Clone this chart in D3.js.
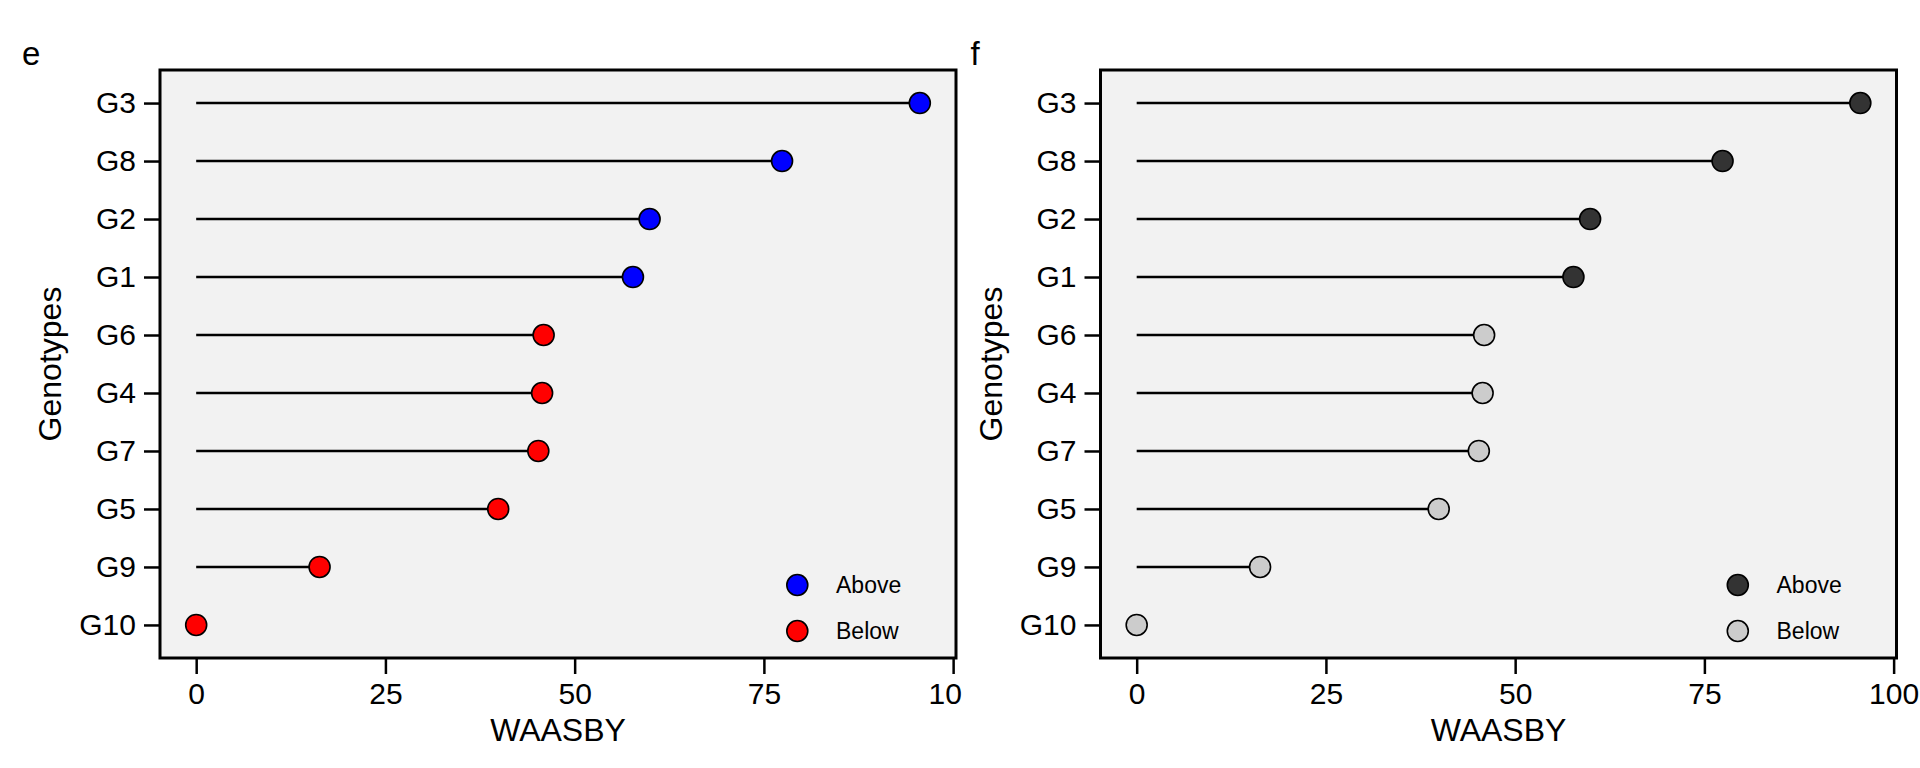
<!DOCTYPE html>
<html>
<head>
<meta charset="utf-8">
<script src="https://cdn.jsdelivr.net/npm/d3@7"></script>
<style>
  html, body { margin: 0; padding: 0; background: #ffffff; }
  svg { display: block; font-family: "Liberation Sans", Arial, sans-serif; }
</style>
</head>
<body>
<svg id="chart" width="1920" height="768"></svg>
<script>
// ---- data ----
const genotypes = ["G3", "G8", "G2", "G1", "G6", "G4", "G7", "G5", "G9", "G10"];
const waasby    = [95.6, 77.4, 59.9, 57.7, 45.9, 45.7, 45.2, 39.9, 16.3, 0];
const groups    = ["Above", "Above", "Above", "Above", "Below", "Below", "Below", "Below", "Below", "Below"];
const legendLabels = ["Above", "Below"];
const xTicks = [0, 25, 50, 75, 100];
const panelLabels = ["e", "f"];
const colorsColour = ["#0000ff", "#ff0000"];
const colorsGrey   = ["#333333", "#cccccc"];

const svg = d3.select("#chart");
const data = genotypes.map((g, i) => ({ g, v: waasby[i], grp: groups[i] }));

const ext = d3.extent(waasby);
const pad = (ext[1] - ext[0]) * 0.05;
const FONT = '"Liberation Sans", Arial, sans-serif';

function drawPanel(ox, label, colors, clipRight, idx) {
  const left = 160 + ox, right = 956 + ox, top = 70, bottom = 658;
  const x = d3.scaleLinear().domain([ext[0] - pad, ext[1] + pad]).range([left, right]);
  const y = d3.scalePoint().domain(genotypes).range([top, bottom]).padding(0.57);
  const color = d3.scaleOrdinal().domain(legendLabels).range(colors);

  const clipId = "clip" + idx;
  svg.append("clipPath").attr("id", clipId)
    .append("rect").attr("x", 0).attr("y", 0).attr("width", clipRight).attr("height", 768);
  const g = svg.append("g").attr("clip-path", `url(#${clipId})`);

  // panel background
  g.append("rect").attr("x", left).attr("y", top)
    .attr("width", right - left).attr("height", bottom - top)
    .attr("fill", "#f2f2f2");

  // segments
  g.append("g").selectAll("line").data(data).join("line")
    .attr("x1", x(0)).attr("x2", d => x(d.v))
    .attr("y1", d => y(d.g)).attr("y2", d => y(d.g))
    .attr("stroke", "#000").attr("stroke-width", 2.5);

  // points
  g.append("g").selectAll("circle").data(data).join("circle")
    .attr("cx", d => x(d.v)).attr("cy", d => y(d.g)).attr("r", 10.5)
    .attr("fill", d => color(d.grp)).attr("stroke", "#000").attr("stroke-width", 1.6);

  // legend
  const lg = g.append("g");
  legendLabels.forEach((l, i) => {
    const cy = 585 + i * 46;
    lg.append("circle").attr("cx", right - 158.7).attr("cy", cy).attr("r", 10.5)
      .attr("fill", color(l)).attr("stroke", "#000").attr("stroke-width", 1.6);
    lg.append("text").attr("x", right - 120).attr("y", cy + 8)
      .attr("font-size", 23).attr("fill", "#000").text(l);
  });

  // axes
  const xAxis = d3.axisBottom(x).tickValues(xTicks).tickSize(16).tickPadding(9).tickFormat(d3.format("d"));
  const xg = g.append("g").attr("transform", `translate(0,${bottom})`).call(xAxis);
  xg.select(".domain").remove();
  xg.selectAll(".tick line").attr("stroke", "#000").attr("stroke-width", 2.5);
  xg.selectAll(".tick text").attr("font-size", 30).attr("fill", "#000").attr("font-family", FONT);

  const yAxis = d3.axisLeft(y).tickSize(16).tickPadding(8);
  const yg = g.append("g").attr("transform", `translate(${left},0)`).call(yAxis);
  yg.select(".domain").remove();
  yg.selectAll(".tick line").attr("stroke", "#000").attr("stroke-width", 2.5);
  yg.selectAll(".tick text").attr("font-size", 30).attr("fill", "#000").attr("font-family", FONT);

  // border
  g.append("rect").attr("x", left).attr("y", top)
    .attr("width", right - left).attr("height", bottom - top)
    .attr("fill", "none").attr("stroke", "#000").attr("stroke-width", 3);

  // titles
  g.append("text").attr("x", (left + right) / 2).attr("y", 741)
    .attr("text-anchor", "middle").attr("font-size", 32).attr("fill", "#000").text("WAASBY");
  g.append("text")
    .attr("transform", `translate(${left - 99},${(top + bottom) / 2}) rotate(-90)`)
    .attr("text-anchor", "middle").attr("font-size", 32).attr("fill", "#000").text("Genotypes");

  g.append("text").attr("x", 22 + ox + (idx ? 8 : 0)).attr("y", 65)
    .attr("font-size", 33).attr("fill", "#000").text(label);
}

drawPanel(0, panelLabels[0], colorsColour, 962, 0);
drawPanel(940.5, panelLabels[1], colorsGrey, 1920, 1);
</script>
</body>
</html>
